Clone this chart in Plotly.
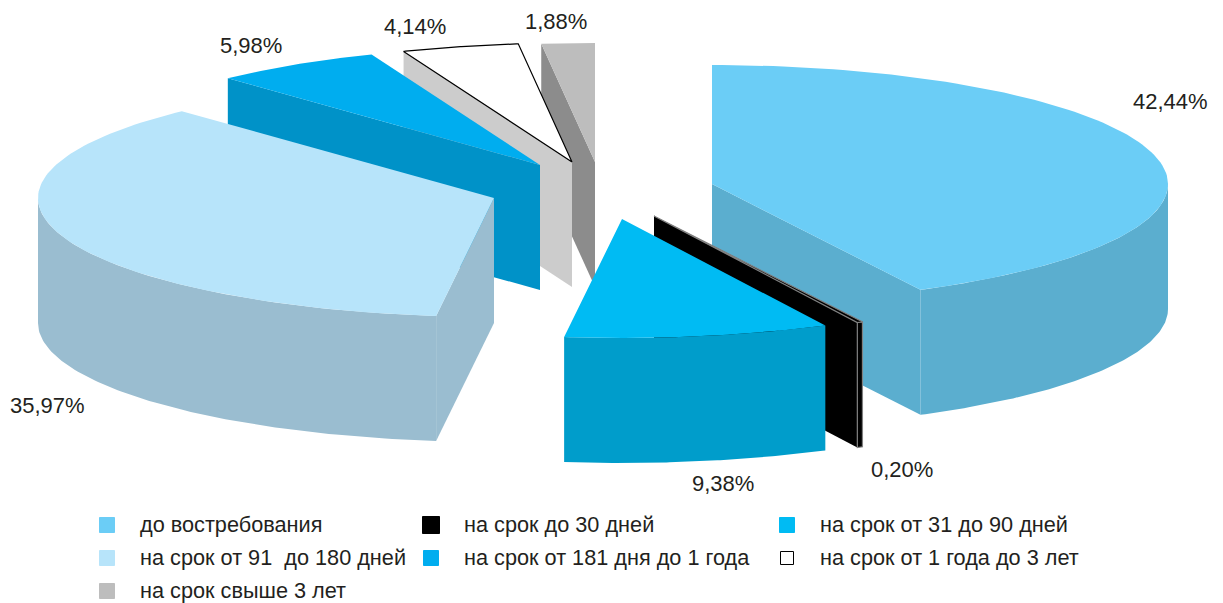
"""
Exploded 3D pie of deposits by term, projected by hand onto an x/y axis.
"""

import numpy as np
import plotly.graph_objects as go

# ── DATA ──────────────────────────────────────────────────────────────────────

CATEGORIES = [
    "до востребования",
    "на срок до 30 дней",
    "на срок от 31 до 90 дней",
    "на срок от 91\u00a0 до 180 дней",
    "на срок от 181 дня до 1 года",
    "на срок от 1 года до 3 лет",
    "на срок свыше 3 лет",
]
SHARES = [42.44, 0.20, 9.38, 35.97, 5.98, 4.14, 1.88]
SHARE_LABELS = ["42,44%", "0,20%", "9,38%", "35,97%", "5,98%", "4,14%", "1,88%"]

# ── CONFIG ────────────────────────────────────────────────────────────────────

WIDTH, HEIGHT = 1223, 603
FONT = "Liberation Sans"
TEXT_COLOUR = "#231f20"

RX, RY = 456, 119     # ellipse of the pie top
DEPTH = 125           # height of the walls

TOP_COLOURS  = ["#6bcdf6", "#000000", "#00bbf3", "#b7e4fa", "#00adef", "#ffffff", "#bdbdbd"]
WALL_COLOURS = ["#5baecf", "#000000", "#009dcb", "#9abdd0", "#0092c8", "#cccccc", "#8c8c8c"]
EDGE_COLOURS = [None, "#808080", None, None, None, "#000000", None]

# where each exploded slice has its tip
TIP_X = [712, 654, 622, 494, 540, 572, 595]
TIP_Y = [184, 216, 219, 198, 165, 162, 162]

# back slices first so the front ones cover them
DRAW_ORDER = [6, 5, 4, 3, 0, 1, 2]

LABEL_X = [1170, 902, 723, 47, 251, 415, 556]
LABEL_Y = [101, 469, 483, 405, 45, 26, 21]

LEGEND_COLS = [107, 431, 787]
LEGEND_ROWS = [525, 558, 591]
LEGEND_TEXT_GAP = 31
LEGEND_SWATCH = [15, 17, 15, 15, 15, 13, 15]

# ── FUNCTIONS ─────────────────────────────────────────────────────────────────

def rim(tip_x, tip_y, theta):
    """Point on the ellipse; theta is in degrees, clockwise from 12 o'clock."""
    t = np.radians(theta)
    return tip_x + RX * np.sin(t), tip_y - RY * np.cos(t)


def add_polygon(fig, xs, ys, fill, edge=None):
    fig.add_trace(go.Scatter(
        x=xs,
        y=ys,
        mode="lines",
        fill="toself",
        fillcolor=fill,
        line=dict(color=edge or fill, width=1.2 if edge else 0),
        hoverinfo="skip",
        showlegend=False,
    ))


def add_slice(fig, idx, start, end):
    tx, ty = TIP_X[idx], TIP_Y[idx]
    wall = WALL_COLOURS[idx]
    edge = EDGE_COLOURS[idx]

    # radial faces that look towards the viewer
    for theta, visible in ((start, start > 180), (end, end < 180)):
        if visible:
            x, y = rim(tx, ty, theta)
            add_polygon(fig, [tx, x, x, tx], [ty, y, y + DEPTH, ty + DEPTH], wall)

    # outer wall, front half of the rim only
    lo, hi = max(start, 90), min(end, 270)
    if lo < hi:
        thetas = np.linspace(lo, hi, 90)
        x, y = rim(tx, ty, thetas)
        add_polygon(
            fig,
            np.r_[x, (x[::-1]), x[0]],
            np.r_[y, y[::-1] + DEPTH, y[0]],
            wall,
            "#808080" if idx == 1 else None,
        )

    thetas = np.linspace(start, end, 120)
    x, y = rim(tx, ty, thetas)
    add_polygon(fig, np.r_[tx, x, tx], np.r_[ty, y, ty], TOP_COLOURS[idx], edge)

# ── MAIN ──────────────────────────────────────────────────────────────────────

fig = go.Figure()

edges = np.r_[0, np.cumsum(SHARES)] / np.sum(SHARES) * 360

for i in DRAW_ORDER:
    add_slice(fig, i, edges[i], edges[i + 1])

for label, x, y in zip(SHARE_LABELS, LABEL_X, LABEL_Y):
    fig.add_annotation(
        x=x, y=y, text=label, showarrow=False,
        font=dict(family=FONT, size=22, color=TEXT_COLOUR),
    )

# legend is laid out by hand: the columns are not evenly spaced
for i, name in enumerate(CATEGORIES):
    cx = LEGEND_COLS[i % 3]
    cy = LEGEND_ROWS[i // 3]
    fig.add_trace(go.Scatter(
        x=[cx],
        y=[cy],
        mode="markers",
        marker=dict(
            symbol="square",
            size=LEGEND_SWATCH[i],
            color=TOP_COLOURS[i],
            line=dict(color="#000000" if i == 5 else TOP_COLOURS[i], width=1),
        ),
        hoverinfo="skip",
        showlegend=False,
    ))
    fig.add_annotation(
        x=cx + LEGEND_TEXT_GAP, y=cy - 1, text=name, showarrow=False,
        xanchor="left",
        font=dict(family=FONT, size=21.7, color=TEXT_COLOUR),
    )

fig.update_layout(
    width=WIDTH,
    height=HEIGHT,
    margin=dict(l=0, r=0, t=0, b=0),
    paper_bgcolor="white",
    plot_bgcolor="white",
    xaxis=dict(range=[0, WIDTH], visible=False, fixedrange=True),
    yaxis=dict(range=[HEIGHT, 0], visible=False, fixedrange=True),
)

# the page's default body margin would shift the chart by 8 px
fig.write_html(
    "out.html",
    config=dict(displayModeBar=False),
    post_script="document.body.style.margin = '0';",
)
